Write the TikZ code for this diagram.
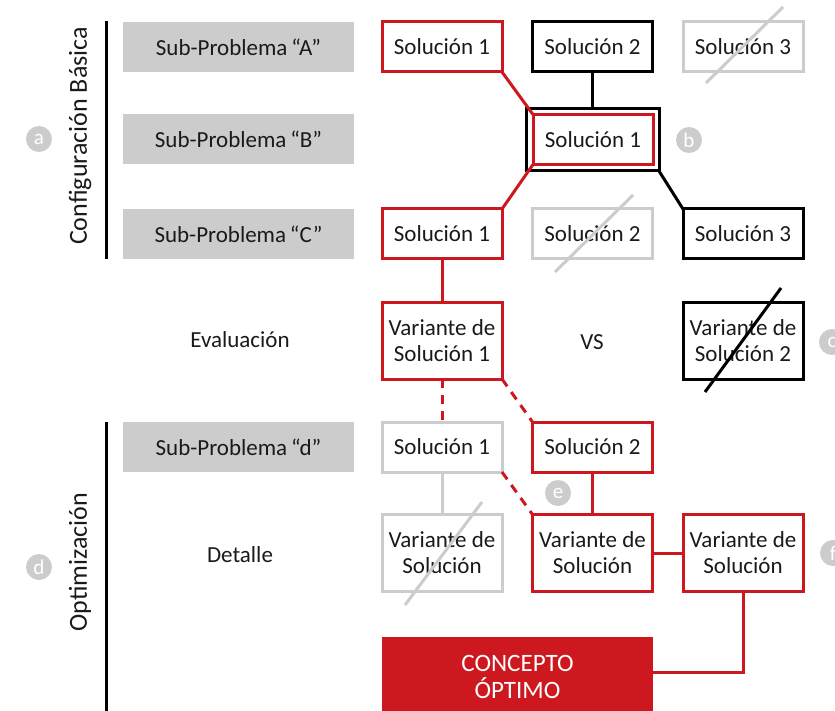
\documentclass[tikz,border=0pt]{standalone}
\usepackage{fontspec}
\setmainfont{Carlito}
\definecolor{myred}{HTML}{CC181E}
\definecolor{lgray}{HTML}{CCCCCC}
\definecolor{txt}{HTML}{1A1A1A}
\begin{document}
\begin{tikzpicture}[x=1pt,y=-1pt,
  every node/.style={inner sep=0pt, outer sep=0pt, text=txt, font=\fontsize{23}{26}\selectfont},
  sub/.style={fill=lgray, minimum width=231pt, minimum height=50pt},
  sol/.style={draw, line width=3pt, fill=white, minimum width=120pt, minimum height=50pt},
  var/.style={sol, minimum height=77pt, align=center},
  redb/.style={draw=myred},
  blkb/.style={draw=black},
  grayb/.style={draw=lgray},
  circ/.style={circle, fill=lgray, minimum size=26pt, text=white, font=\fontsize{21}{21}\selectfont},
  side/.style={rotate=90, font=\fontsize{26}{30}\selectfont},
  rline/.style={draw=myred, line width=3pt},
  rdash/.style={draw=myred, line width=3pt, dash pattern=on 9pt off 7pt},
  bline/.style={draw=black, line width=3pt},
  gline/.style={draw=lgray, line width=3pt},
  strike/.style={line width=3pt}
]
\useasboundingbox (0,0) rectangle (835,711);

% side labels
\node[side] (cfg) at (80,136) {Configuración Básica};
\node[side] (opt) at (80,562) {Optimización};
\coordinate (l1t) at (106,21);
\coordinate (l1b) at (106,259);
\coordinate (l2t) at (106,422);
\coordinate (l2b) at (106,715);
\draw[bline] (l1t) -- (l1b);
\draw[bline] (l2t) -- (l2b);

% circles
\node[circ] (ca) at (39,139) {a};
\node[circ] (cb) at (689,140) {b};
\node[circ] (cc) at (832,342) {c};
\node[circ] (cd) at (39,567) {d};
\node[circ] (ce) at (558,493) {e};
\node[circ] (cf) at (833,553) {f};

% sub-problems
\node[sub] (pa) at (238.5,47) {Sub-Problema\,“A”};
\node[sub] (pb) at (238.5,139.5) {Sub-Problema\,“B”};
\node[sub] (pc) at (238.5,234) {Sub-Problema\,“C”};
\node[sub] (pd) at (238.5,447) {Sub-Problema\,“d”};
\node (ev) at (240,340) {Evaluación};
\node (de) at (240,555) {Detalle};

% row A
\node[sol,redb] (sA1) at (442,47) {Solución 1};
\node[sol,blkb] (sA2) at (592.5,47) {Solución 2};
\node[sol,grayb] (sA3) at (743,47) {Solución 3};
% row B
\node[draw=black, line width=3pt, fill=white, minimum width=133pt, minimum height=62pt] (bout) at (592.5,140) {};
\node[sol,redb] (sB1) at (593,139.5) {Solución 1};
% row C
\node[sol,redb] (sC1) at (442,234) {Solución 1};
\node[sol,grayb] (sC2) at (592.5,234) {Solución 2};
\node[sol,blkb] (sC3) at (743,234) {Solución 3};
% evaluation
\node[var,redb] (v1) at (442,340.5) {Variante de\\Solución 1};
\node (vs) at (592,342) {VS};
\node[var,blkb] (v2) at (743,340.5) {Variante de\\Solución 2};
% row d
\node[sol,grayb] (sd1) at (442,447) {Solución 1};
\node[sol,redb] (sd2) at (592.5,447) {Solución 2};
% detail
\node[var,grayb] (vd1) at (442,553) {Variante de\\Solución};
\node[var,redb] (vd2) at (592.5,553) {Variante de\\Solución};
\node[var,redb] (vd3) at (743,553) {Variante de\\Solución};
% concept
\node[fill=myred, minimum width=271pt, minimum height=80pt, align=center, text=white,
  font=\fontsize{25}{27}\selectfont] (co) at (517.5,677) {CONCEPTO\\ÓPTIMO};

% connectors
\draw[rline] (sA1.south east) -- (sB1.north west);
\draw[bline] (sA2.south) -- (bout.north);
\draw[rline] (sB1.south west) -- (sC1.north east);
\draw[bline] (bout.south east) -- (sC3.north west);
\draw[rline] (sC1.south) -- (v1.north);
\draw[rdash] (v1.south) -- (sd1.north);
\draw[rdash] (v1.south east) -- (sd2.north west);
\draw[gline] (sd1.south) -- (vd1.north);
\draw[rdash] (sd1.south east) -- (vd2.north west);
\draw[rline] (sd2.south) -- (vd2.north);
\draw[rline] (vd2.east) -- (vd3.west);
\draw[rline] (vd3.south) |- ([yshift=5pt]co.east);

% strikes
\draw[strike, lgray] (706,83) -- (783,7);
\draw[strike, lgray] (555,272) -- (633,195);
\draw[strike, black] (705,392) -- (781,288);
\draw[strike, lgray] (405,605) -- (482,502);
\end{tikzpicture}
\end{document}
